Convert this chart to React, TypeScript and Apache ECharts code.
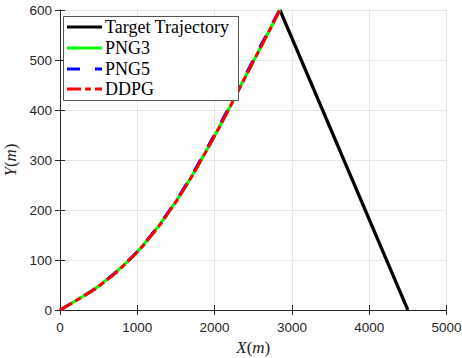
import React, { useEffect, useRef } from "react";
import * as echarts from "echarts";

// Trajectory samples (metres)
const pathY = [0, 25, 50, 100, 150, 200, 250, 300, 350, 400, 450, 500, 550, 600];
const png3X = [0, 272, 520, 895, 1185, 1425, 1635, 1825, 2005, 2177, 2343, 2510, 2677, 2845];
const png5X = [0, 270, 517, 891, 1180, 1419, 1628, 1817, 1996, 2167, 2333, 2500, 2669, 2840];
const ddpgX = [0, 274, 522, 897, 1187, 1427, 1637, 1827, 2007, 2179, 2345, 2512, 2679, 2845];
const targetX = [2845, 4500];
const targetY = [600, 0];

const seriesNames = ["Target Trajectory", "PNG3", "PNG5", "DDPG"];
const seriesColors = ["#000000", "#00ff00", "#0000ff", "#ff0000"];

const pairs = (xs: number[], ys: number[]) => xs.map((x, i) => [x, ys[i]]);

const SERIF = "'Liberation Serif', 'Times New Roman', serif";
const SANS = "'Liberation Sans', Helvetica, Arial, sans-serif";

const blueDash = [13, 15];
const redDash = [14, 4, 6, 4];

export default function App() {
  const ref = useRef<HTMLDivElement>(null);

  useEffect(() => {
    if (!ref.current) return;
    const chart = echarts.init(ref.current, null, { renderer: "svg" });

    const axisColor = "#262626";
    const gridColor = "#e6e6e6";
    const rich = {
      i: { fontFamily: SERIF, fontStyle: "italic", fontSize: 17, color: "#262626" },
    };

    const legendRows = [27, 48, 69, 89];
    const legendDash: (number[] | null)[] = [null, null, blueDash, redDash];

    const legendGraphic: any[] = [
      {
        type: "rect",
        shape: { x: 63.5, y: 16.5, width: 175, height: 84 },
        style: { fill: "#ffffff", stroke: "#555555", lineWidth: 1 },
        z: 100,
      },
    ];
    seriesNames.forEach((name, i) => {
      legendGraphic.push({
        type: "line",
        shape: { x1: 67, y1: legendRows[i], x2: 102, y2: legendRows[i] },
        style: {
          stroke: seriesColors[i],
          lineWidth: 3,
          lineDash: legendDash[i] || undefined,
        },
        z: 101,
      });
      legendGraphic.push({
        type: "text",
        x: 105,
        y: legendRows[i],
        style: {
          text: name,
          fontFamily: SERIF,
          fontSize: 18,
          fill: "#000000",
          verticalAlign: "middle",
          textAlign: "left",
        },
        z: 101,
      });
    });

    const plain = (v: number) => String(v);

    chart.setOption({
      animation: false,
      backgroundColor: "#ffffff",
      grid: {
        left: 60,
        right: 15.5,
        top: 10,
        bottom: 48,
        containLabel: false,
        outerBoundsMode: "none",
      },
      xAxis: [
        {
          type: "value",
          min: 0,
          max: 5000,
          interval: 1000,
          position: "bottom",
          name: "{i|X}({i|m})",
          nameLocation: "middle",
          nameGap: 26,
          nameTextStyle: { fontFamily: SERIF, fontSize: 17, color: "#262626", rich },
          axisLine: { show: true, lineStyle: { color: axisColor, width: 1 } },
          axisTick: { show: true, inside: true, length: 5, lineStyle: { color: axisColor } },
          axisLabel: { fontFamily: SANS, fontSize: 13.5, color: "#262626", margin: 10, formatter: plain },
          splitLine: { show: true, lineStyle: { color: gridColor, width: 1 } },
        },
        {
          type: "value",
          min: 0,
          max: 5000,
          interval: 1000,
          position: "top",
          axisLine: { show: true, lineStyle: { color: axisColor, width: 1 } },
          axisTick: { show: true, inside: true, length: 5, lineStyle: { color: axisColor } },
          axisLabel: { show: false },
          splitLine: { show: false },
        },
      ],
      yAxis: [
        {
          type: "value",
          min: 0,
          max: 600,
          interval: 100,
          position: "left",
          name: "{i|Y}({i|m})",
          nameLocation: "middle",
          nameGap: 31,
          nameTextStyle: { fontFamily: SERIF, fontSize: 17, color: "#262626", rich },
          axisLine: { show: true, lineStyle: { color: axisColor, width: 1 } },
          axisTick: { show: true, inside: true, length: 5, lineStyle: { color: axisColor } },
          axisLabel: { fontFamily: SANS, fontSize: 13.5, color: "#262626", margin: 8, formatter: plain },
          splitLine: { show: true, lineStyle: { color: gridColor, width: 1 } },
        },
        {
          type: "value",
          min: 0,
          max: 600,
          interval: 100,
          position: "right",
          axisLine: { show: true, lineStyle: { color: axisColor, width: 1 } },
          axisTick: { show: true, inside: true, length: 5, lineStyle: { color: axisColor } },
          axisLabel: { show: false },
          splitLine: { show: false },
        },
      ],
      series: [
        {
          name: seriesNames[0],
          type: "line",
          data: pairs(targetX, targetY),
          symbol: "none",
          lineStyle: { color: seriesColors[0], width: 3.2 },
          z: 2,
        },
        {
          name: seriesNames[1],
          type: "line",
          data: pairs(png3X, pathY),
          symbol: "none",
          smooth: 0.5,
          lineStyle: { color: seriesColors[1], width: 3 },
          z: 3,
        },
        {
          name: seriesNames[2],
          type: "line",
          data: pairs(png5X, pathY),
          symbol: "none",
          smooth: 0.5,
          lineStyle: { color: seriesColors[2], width: 3, type: blueDash },
          z: 4,
        },
        {
          name: seriesNames[3],
          type: "line",
          data: pairs(ddpgX, pathY),
          symbol: "none",
          smooth: 0.5,
          lineStyle: { color: seriesColors[3], width: 3, type: redDash },
          z: 5,
        },
      ],
      graphic: legendGraphic,
    });

    return () => chart.dispose();
  }, []);

  return (
    <div
      ref={ref}
      style={{ position: "absolute", left: 0, top: 0, width: 462, height: 358 }}
    />
  );
}
